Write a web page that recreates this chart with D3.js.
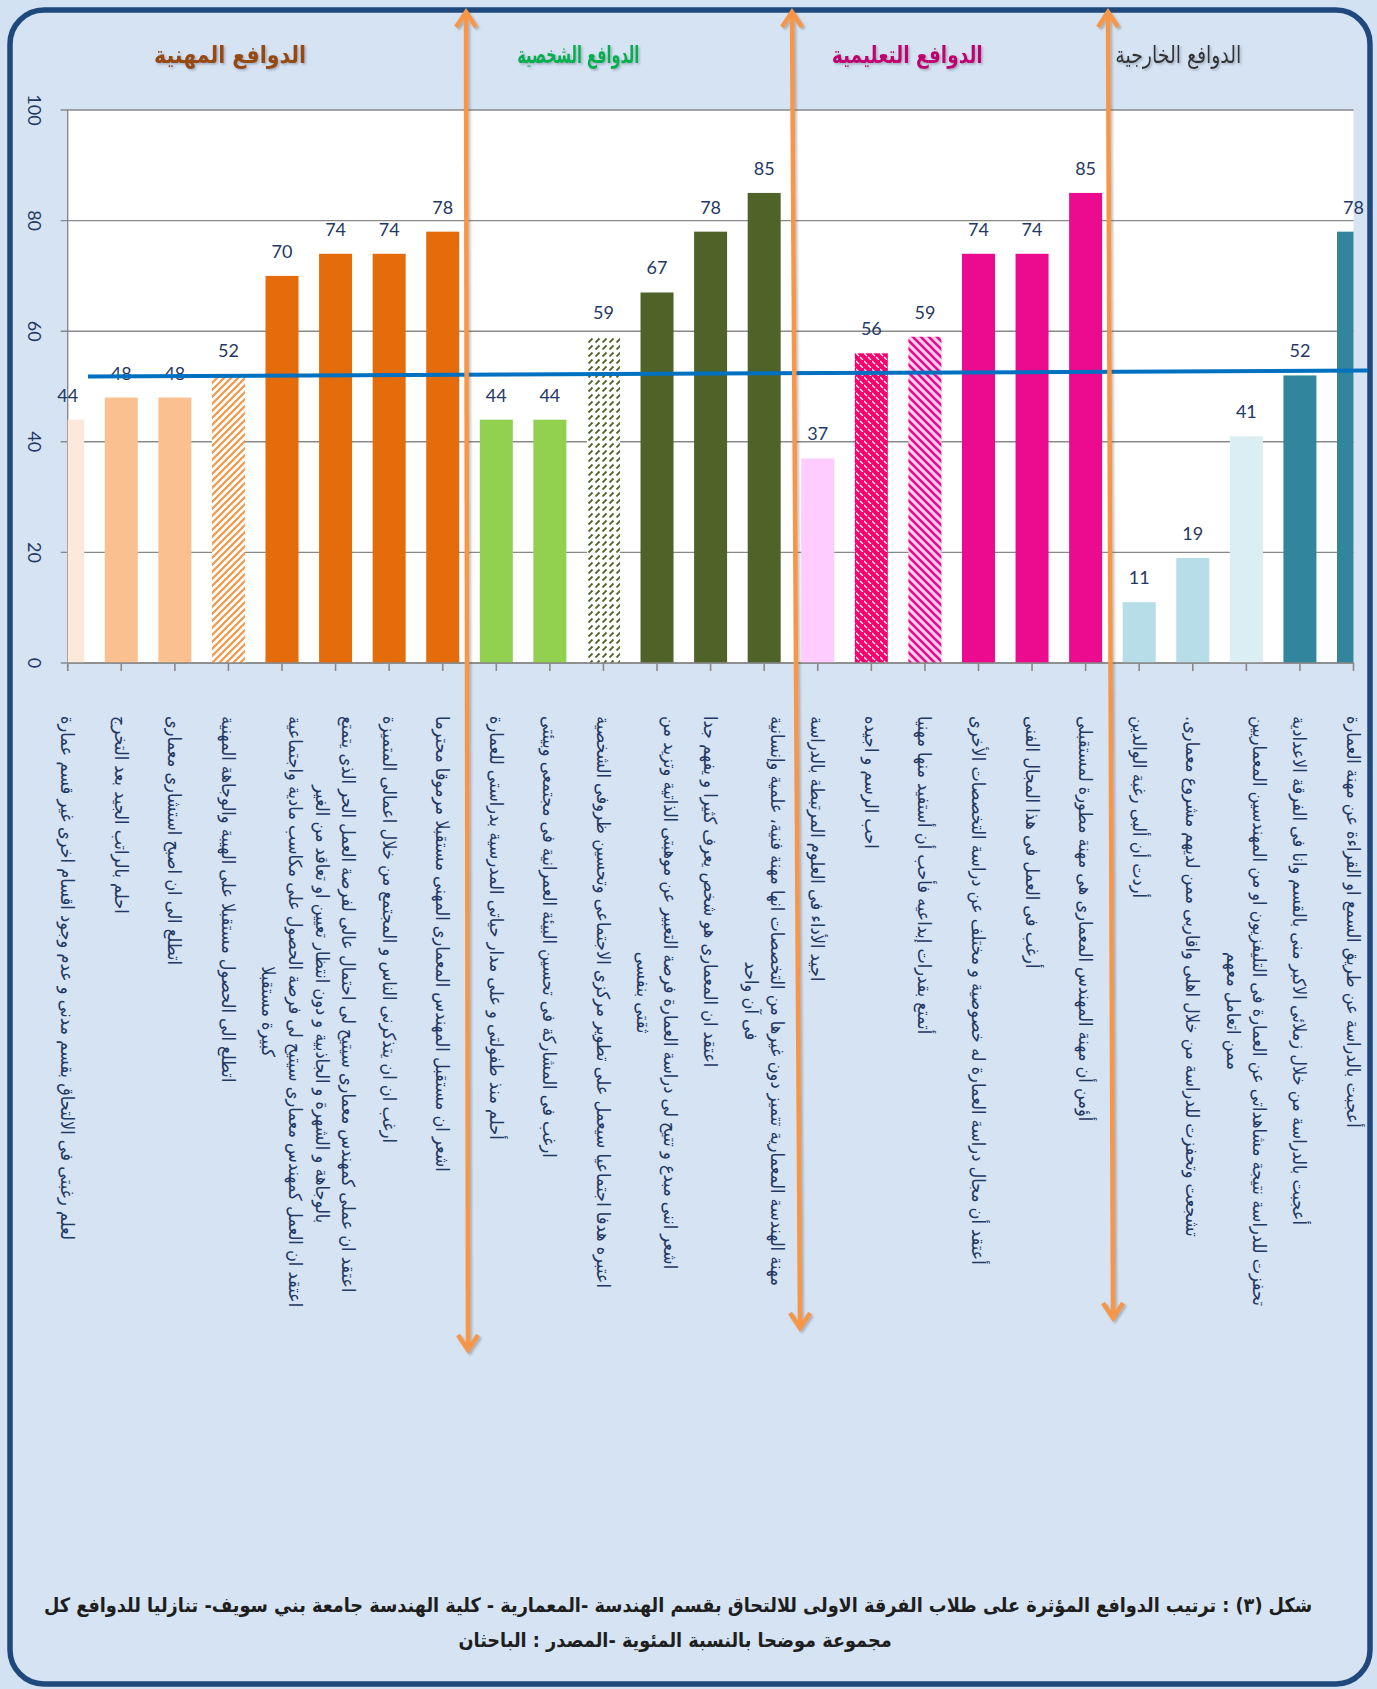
<!DOCTYPE html>
<html><head><meta charset="utf-8">
<script src="https://cdn.jsdelivr.net/npm/d3@7"></script>
<style>
html,body{margin:0;padding:0;background:#d3e2f3;}
svg{display:block}
</style>
</head><body>
<svg id="chart" width="1377" height="1689"></svg>
<script>
// ---------------- DATA ----------------
const categories = [
  "لعلم رغبتى فى الالتحاق بقسم مدنى و عدم وجود اقسام اخرى غير قسم عمارة",
  "احلم بالراتب  الجيد بعد التخرج",
  "اتطلع الى ان اصبح استشارى معمارى",
  "اتطلع الى الحصول مستقبلا على الهيبة والوجاهة المهنية",
  "اعتقد ان العمل كمهندس معمارى سيتيح لى فرصة الحصول على مكاسب مادية واجتماعية\nكبيرة مستقبلا",
  "اعتقد ان عملى كمهندس معمارى سيتيح لى احتمال عالى لفرصة العمل الحر الذى يتمتع\nبالوجاهة و الشهرة و الجاذبية و دون انتظار تعيين او تعاقد من الغير",
  "ارغب ان ان يتذكرنى الناس و المجتمع من خلال اعمالى المتميزة",
  "اشعر ان مستقبل المهندس المعمارى المهنى  مستقبلا مرموقا محترما",
  "أحلم منذ طفولتى و على مدار حياتى المدرسية بدراستى للعمارة",
  "ارغب فى المشاركة فى تحسين البيئة العمرانية فى مجتمعى وبيئتى",
  "اعتبره هدفا اجتماعيا سيعمل على تطوير مركزى الاجتماعى وتحسين ظروفى الشخصية",
  "اشعر اننى مبدع و تتيح لى دراسة العمارة فرصة التعبير عن موهبتى الذاتية وتزيد من\nثقتى بنفسى",
  "اعتقد ان المعمارى هو شخص يعرف كثيرا و يفهم جدا",
  "مهنة الهندسة المعمارية تتميز دون غيرها من التخصصات انها مهنة فنية، علمية وإنسانية\nفى آن واحد",
  "اجيد الأداء فى العلوم المرتبطة بالدراسة",
  "احب الرسم و اجيده",
  "أتمتع بقدرات إبداعيه فأحب أن أستفيد منها مهنيا",
  "أعتقد أن مجال دراسة العمارة له خصوصية و مختلف عن دراسة التخصصات الأخرى",
  "أرغب فى العمل فى هذا المجال الفنى",
  "أؤمن أن مهنة المهندس المعمارى هى مهنة مطورة لمستقبلى",
  "أردت أن ألبى رغبة الوالدين",
  "تشجعت وتحفزت للدراسة من خلال اهلى واقاربى ممن لديهم مشروع معمارى.",
  "تحفزت للدراسة نتيجة مشاهداتى عن العمارة فى التليفزيون او من المهندسين المعماريين\nممن اتعامل معهم",
  "أعجبت بالدراسة من خلال زملائى الاكبر منى بالقسم وانا فى الفرقة الاعدادية",
  "أعجبت بالدراسة عن طريق السمع او القراءة عن مهنة العمارة"
];
const values = [44,48,48,52,70,74,74,78, 44,44,59,67,78,85, 37,56,59,74,74,85, 11,19,41,52,78];
const groupTitles = ["الدوافع المهنية","الدوافع الشخصية","الدوافع  التعليمية","الدوافع الخارجية"];
const yTicks = [0,20,40,60,80,100];
const averageLine = [51.8, 52.9];   // blue reference line: value at left end, value at right end
const captionLines = [
  "شكل (٣) : ترتيب الدوافع المؤثرة على  طلاب الفرقة الاولى للالتحاق بقسم الهندسة -المعمارية -  كلية الهندسة جامعة بني سويف- تنازليا للدوافع كل",
  "مجموعة موضحا بالنسبة المئوية -المصدر : الباحثان"
];

// ---------------- STYLES ----------------
const barFills = [
  "#fde9d9","#fac08f","#fac08f","url(#patOrange)","#e46c0a","#e46c0a","#e46c0a","#e46c0a",
  "#92d050","#92d050","url(#patGreen)","#4f6228","#4f6228","#4f6228",
  "#ffccff","url(#patPink1)","url(#patPink2)","#ec0a8e","#ec0a8e","#ec0a8e",
  "#b7dee8","#b7dee8","#daeef3","#31859c","#31859c"
];
const groupColors = ["#984807","#00b050","#c00070","#333333"];
const navy = "#1f3864";
const arabicFont = "'DejaVu Sans Condensed','DejaVu Sans',sans-serif";

// ---------------- LAYOUT ----------------
const W = 1377, H = 1689;
const X0 = 67.7, X1 = 1353.5, YTOP = 110, YBOT = 663;
const barW = 33;
const svg = d3.select("#chart");

const defs = svg.append("defs");
// patterns
const p1 = defs.append("pattern").attr("id","patOrange").attr("patternUnits","userSpaceOnUse").attr("width",7).attr("height",7);
p1.append("rect").attr("width",7).attr("height",7).attr("fill","#fff");
p1.append("path").attr("d","M0,7 L7,0 M-2,2 L2,-2 M5,9 L9,5").attr("stroke","#f79646").attr("stroke-width",2.2);
const p2 = defs.append("pattern").attr("id","patGreen").attr("patternUnits","userSpaceOnUse").attr("width",7).attr("height",7);
p2.append("rect").attr("width",7).attr("height",7).attr("fill","#fff");
p2.append("path").attr("d","M0.5,6.5 L4.5,2.5").attr("stroke","#4f6228").attr("stroke-width",1.8);
const p3 = defs.append("pattern").attr("id","patPink1").attr("patternUnits","userSpaceOnUse").attr("width",8).attr("height",8);
p3.append("rect").attr("width",8).attr("height",8).attr("fill","#f5006e");
p3.append("path").attr("d","M0,1 L3,4 M4,5 L7,8").attr("stroke","#fff").attr("stroke-width",1.3);
const p4 = defs.append("pattern").attr("id","patPink2").attr("patternUnits","userSpaceOnUse").attr("width",8).attr("height",8);
p4.append("rect").attr("width",8).attr("height",8).attr("fill","#fbd3ec");
p4.append("path").attr("d","M-2,-2 L10,10 M-2,6 L2,10 M6,-2 L10,2").attr("stroke","#e8088a").attr("stroke-width",2.6);
// clip
defs.append("clipPath").attr("id","plotClip").append("rect")
  .attr("x",X0).attr("y",YTOP-2).attr("width",X1-X0).attr("height",YBOT-YTOP+2);
// shadow for headings
const f = defs.append("filter").attr("id","tshadow").attr("x","-10%").attr("y","-20%").attr("width","130%").attr("height","150%");
f.append("feDropShadow").attr("dx",1.5).attr("dy",1.5).attr("stdDeviation",1).attr("flood-color","#7d8aa0").attr("flood-opacity",0.6);
const fa = defs.append("filter").attr("id","ashadow").attr("x","-50%").attr("y","-5%").attr("width","200%").attr("height","110%");
fa.append("feDropShadow").attr("dx",2).attr("dy",2).attr("stdDeviation",1.2).attr("flood-color","#555").attr("flood-opacity",0.35);

// background + frame
svg.append("rect").attr("width",W).attr("height",H).attr("fill","#d3e2f3");
svg.append("rect").attr("x",10).attr("y",10).attr("width",1360).attr("height",1674).attr("rx",34)
  .attr("fill","#d5e3f3").attr("stroke","#1f497d").attr("stroke-width",5.5);

// scales
const x = d3.scalePoint().domain(d3.range(values.length)).range([X0, X1]).padding(0);
const y = d3.scaleLinear().domain([0,100]).range([YBOT, YTOP]);

// plot area
svg.append("rect").attr("x",X0).attr("y",YTOP).attr("width",X1-X0).attr("height",YBOT-YTOP).attr("fill","#fff");

// gridlines
svg.append("g").selectAll("line").data(yTicks).join("line")
  .attr("x1",X0-7).attr("x2",X1).attr("y1",d=>y(d)).attr("y2",d=>y(d))
  .attr("stroke","#898989").attr("stroke-width",1.4);

// y axis line
svg.append("line").attr("x1",X0).attr("x2",X0).attr("y1",YTOP).attr("y2",YBOT+8)
  .attr("stroke","#898989").attr("stroke-width",1.4);

// y tick labels (rotated)
svg.append("g").selectAll("text").data(yTicks).join("text")
  .attr("transform",d=>`translate(35,${y(d)}) rotate(90)`)
  .attr("text-anchor","middle").attr("dominant-baseline","central")
  .attr("font-family","Lato, 'Open Sans', sans-serif").attr("font-size",18)
  .attr("fill",navy).text(d=>d);

// bars
svg.append("g").attr("clip-path","url(#plotClip)").selectAll("rect").data(values).join("rect")
  .attr("x",(d,i)=>x(i)-barW/2).attr("width",barW)
  .attr("y",d=>y(d)).attr("height",d=>YBOT-y(d))
  .attr("fill",(d,i)=>barFills[i]);

// x axis baseline + ticks
svg.append("line").attr("x1",X0).attr("x2",X1).attr("y1",YBOT).attr("y2",YBOT)
  .attr("stroke","#898989").attr("stroke-width",1.6);
svg.append("g").selectAll("line").data(values).join("line")
  .attr("x1",(d,i)=>x(i)).attr("x2",(d,i)=>x(i)).attr("y1",YBOT).attr("y2",YBOT+8)
  .attr("stroke","#898989").attr("stroke-width",1.6);

// value labels
svg.append("g").selectAll("text").data(values).join("text")
  .attr("x",(d,i)=>x(i)).attr("y",d=>y(d)-18)
  .attr("text-anchor","middle")
  .attr("font-family","Lato, 'Open Sans', sans-serif").attr("font-size",18)
  .attr("fill",navy).text(d=>d);

// average line
svg.append("line")
  .attr("x1",88).attr("x2",1368)
  .attr("y1",y(averageLine[0])).attr("y2",y(averageLine[1]))
  .attr("stroke","#0070c0").attr("stroke-width",4);

// category labels (rotated 90deg, block top-aligned, lines centred)
const labelTop = 716;
const labG = svg.append("g");
const probe = labG.append("text").attr("font-family",arabicFont).attr("font-size",15).attr("direction","rtl")
  .text(categories[4].split("\n")[0]);
const probeLen = probe.node().getComputedTextLength();
probe.remove();
const labFont = Math.max(11, Math.min(18, 15*600/probeLen));
const lineGap = labFont*1.45;
categories.forEach((c,i)=>{
  const lines = c.split("\n");
  const g = labG.append("g");
  const texts = lines.map((ln,k)=> g.append("text")
      .attr("font-family",arabicFont).attr("font-size",labFont)
      .attr("direction","rtl").attr("fill",navy).text(ln));
  const lens = texts.map(t=>t.node().getComputedTextLength());
  const maxLen = d3.max(lens);
  const n = lines.length;
  texts.forEach((t,k)=>{
    const across = (k - (n-1)/2) * lineGap;
    t.attr("text-anchor","middle").attr("dominant-baseline","central")
     .attr("x", maxLen/2).attr("y", across);
  });
  g.attr("transform",`translate(${x(i)},${labelTop}) rotate(90)`);
});

// group titles
const headerPos = [3.03, 9.53, 15.67, 20.73];
const headerWidth = [152, 122, 151, 126];
const stepX = x(1)-x(0);
groupTitles.forEach((t,i)=>{
  const tx = svg.append("text")
    .attr("x", X0 + headerPos[i]*stepX).attr("y",55)
    .attr("text-anchor","middle").attr("dominant-baseline","central")
    .attr("direction","rtl")
    .attr("font-family",arabicFont).attr("font-weight", i<3 ? "bold" : "normal")
    .attr("font-size",24).attr("fill",groupColors[i])
    .attr("filter","url(#tshadow)").text(t);
  tx.attr("textLength",headerWidth[i]).attr("lengthAdjust","spacingAndGlyphs");
});

// orange double-headed arrows
const arrows = [
  {x1:466,y1:12,x2:468,y2:1350},
  {x1:792,y1:12,x2:800,y2:1328},
  {x1:1108,y1:12,x2:1113,y2:1318}
];
const ag = svg.append("g").attr("filter","url(#ashadow)");
arrows.forEach(a=>{
  ag.append("line").attr("x1",a.x1).attr("y1",a.y1).attr("x2",a.x2).attr("y2",a.y2)
    .attr("stroke","#f79646").attr("stroke-width",4.5);
  ag.append("path").attr("d",`M${a.x1-10},${a.y1+15} L${a.x1},${a.y1} L${a.x1+10},${a.y1+15}`)
    .attr("fill","none").attr("stroke","#f79646").attr("stroke-width",4.5).attr("stroke-linejoin","miter");
  ag.append("path").attr("d",`M${a.x2-10},${a.y2-15} L${a.x2},${a.y2} L${a.x2+10},${a.y2-15}`)
    .attr("fill","none").attr("stroke","#f79646").attr("stroke-width",4.5).attr("stroke-linejoin","miter");
});

// caption
const cap1 = svg.append("text").attr("x",678).attr("y",1605)
  .attr("text-anchor","middle").attr("dominant-baseline","central").attr("direction","rtl")
  .attr("font-family",arabicFont).attr("font-weight","bold").attr("font-size",17)
  .attr("fill","#1e1e1e").text(captionLines[0]);
const capLen = cap1.node().getComputedTextLength();
const capFont = 17*1269/capLen;
cap1.attr("font-size",capFont);
svg.append("text").attr("x",675).attr("y",1640)
  .attr("text-anchor","middle").attr("dominant-baseline","central").attr("direction","rtl")
  .attr("font-family",arabicFont).attr("font-weight","bold").attr("font-size",capFont)
  .attr("fill","#1e1e1e").text(captionLines[1]);
</script>
</body></html>
